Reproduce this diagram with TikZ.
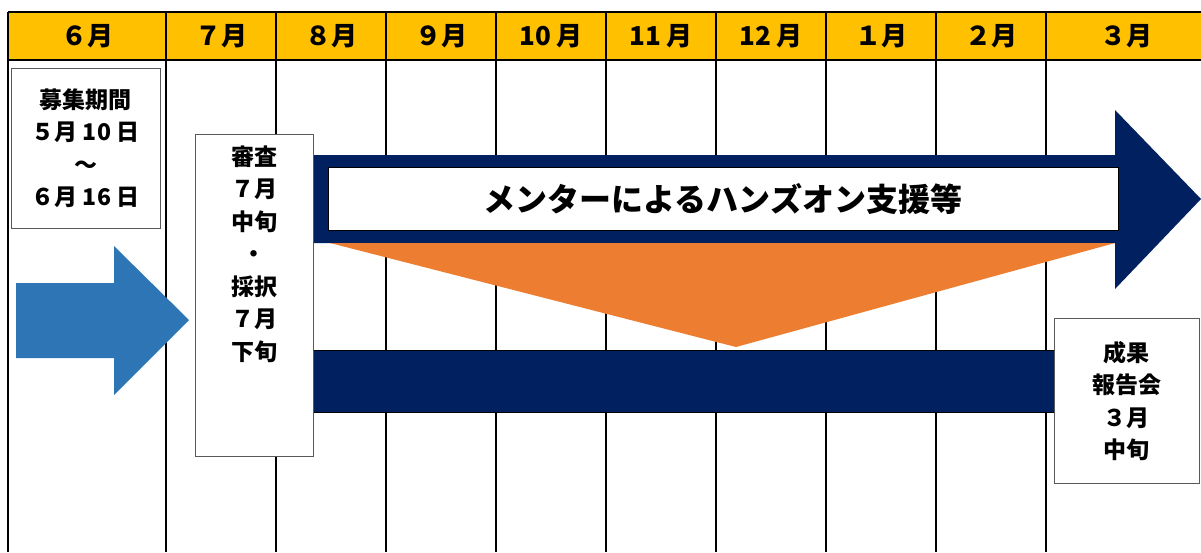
\documentclass[tikz,border=0pt]{standalone}
\usepackage{fontspec}
\setmainfont{Noto Sans CJK JP}
\definecolor{hdryellow}{HTML}{FFC000}
\definecolor{navy}{HTML}{002060}
\definecolor{flowblue}{HTML}{2E75B6}
\definecolor{fanorange}{HTML}{ED7D31}
\tikzset{
  month/.style={font=\fontsize{26}{30}\selectfont\bfseries},
  memo/.style={draw=black!65, fill=white, line width=0.8pt},
  memotext/.style={font=\fontsize{23}{32.5}\selectfont\bfseries, align=center},
}
\begin{document}
\begin{tikzpicture}[x=1pt,y=-1pt]
  \useasboundingbox (0,0) rectangle (1201,552);
  % header row and month grid
  \fill[hdryellow] (8,12) rectangle (1201,60);
  \draw[line width=1.5pt] (8,12) -- (1201,12) (8,60) -- (1201,60);
  \foreach \x in {8,166,276,386,496,606,716,826,936,1046}
    \draw[line width=1.5pt] (\x,12) -- (\x,552);
  \foreach \m/\x [count=\i] in {６月/87,７月/221,８月/331,９月/441,{10 月}/551,{11 月}/661,{12 月}/771,１月/881,２月/991,３月/1126}
    \node[month] (m\i) at (\x,36) {\m};

  % mentoring arrow
  \fill[navy] (313,155) -- (1115,155) -- (1115,110) -- (1201,199)
    -- (1115,289) -- (1115,243) -- (313,243) -- cycle;
  \fill[fanorange] (330,243) -- (1115,243) -- (736,347) -- cycle;
  \node[draw, fill=white, line width=0.8pt, minimum width=790pt, minimum height=63pt,
    font=\fontsize{32}{36}\selectfont\bfseries] (support) at (723,199) {メンターによるハンズオン支援等};
  \draw[navy, fill=navy] (313,350) rectangle (1054,412);
  \draw[line width=0.6pt] (313,350) -- (1054,350) (313,412) -- (1054,412);

  % boxes
  \node[memo, memotext, minimum width=149pt, minimum height=160pt] (recruit) at (85.5,148)
    {募集期間\\５月 10 日\\～\\６月 16 日};
  \node[memo, minimum width=118pt, minimum height=322pt] (review) at (254,295) {};
  \node[memotext, anchor=north] (reviewtext) at (254,142)
    {審査\\７月\\中旬\\・\\採択\\７月\\下旬};
  \node[memo, memotext, minimum width=145pt, minimum height=165pt] (report) at (1126.5,401)
    {成果\\報告会\\３月\\中旬};

  % application flow
  \fill[flowblue] (16,283) -- (114,283) -- (114,246) -- (189,320)
    -- (114,395) -- (114,358) -- (16,358) -- cycle;
\end{tikzpicture}
\end{document}
